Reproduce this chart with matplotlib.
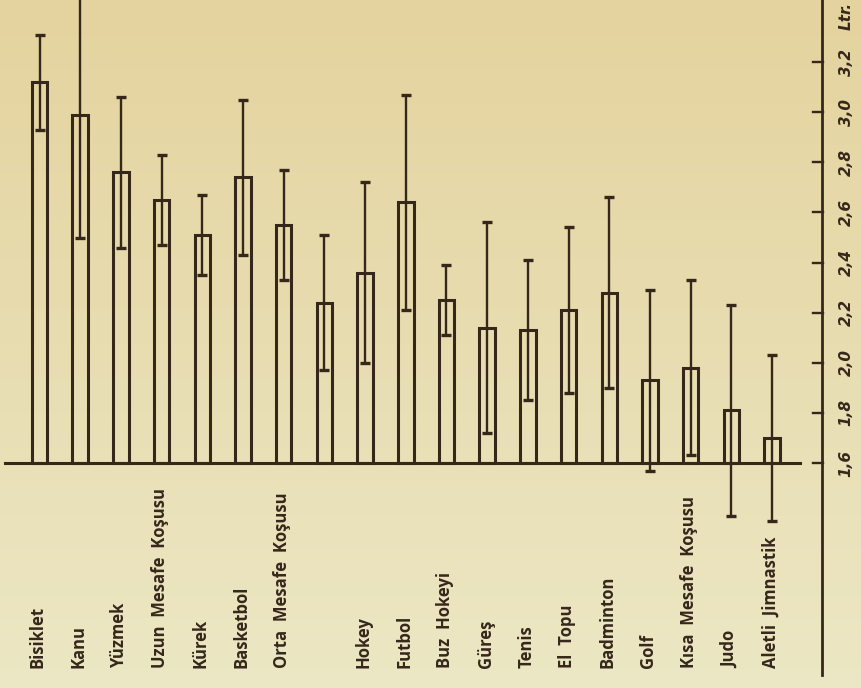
import matplotlib
matplotlib.use('Agg')
import matplotlib.pyplot as plt
import numpy as np

# mean vital capacity (litres) and standard deviation per sport
sports = ['Bisiklet', 'Kanu', 'Yüzmek', 'Uzun  Mesafe  Koşusu', 'Kürek', 'Basketbol',
          'Orta  Mesafe  Koşusu', '', 'Hokey', 'Futbol', 'Buz  Hokeyi', 'Güreş', 'Tenis',
          'El  Topu', 'Badminton', 'Golf', 'Kısa  Mesafe  Koşusu', 'Judo', 'Aletli  Jimnastik']
means = [3.12, 2.99, 2.76, 2.65, 2.51, 2.74, 2.55, 2.24, 2.36, 2.64, 2.25, 2.14, 2.13,
         2.21, 2.28, 1.93, 1.98, 1.81, 1.70]
sds = [0.19, 0.49, 0.30, 0.18, 0.16, 0.31, 0.22, 0.27, 0.36, 0.43, 0.14, 0.42, 0.28,
       0.33, 0.38, 0.36, 0.35, 0.42, 0.33]
yticks = [1.6, 1.8, 2.0, 2.2, 2.4, 2.6, 2.8, 3.0, 3.2]
base = 1.6

ink = '#35281b'
fig = plt.figure(figsize=(8.62, 6.88), dpi=100)
ax = fig.add_axes([0, 0, 1, 1])
ax.set_xlim(-0.971, 20.21)
ax.set_ylim(0.702, 3.448)
ax.axis('off')

# old paper background, darker at the top
grad = np.linspace(0, 1, 256)[:, None]
top = np.array([228, 211, 158]) / 255
bot = np.array([236, 231, 196]) / 255
bg = top[None, None, :] * (1 - grad[..., None]) + bot[None, None, :] * grad[..., None]
bg = np.repeat(bg, 2, axis=1)
ax.imshow(bg, extent=[-0.971, 20.21, 0.702, 3.448], aspect='auto', zorder=0)

x = np.arange(len(means))
ax.bar(x, np.array(means) - base, bottom=base, width=0.38, fill=False,
       edgecolor=ink, linewidth=2.2, zorder=3)
ax.errorbar(x, means, yerr=sds, fmt='none', ecolor=ink, elinewidth=1.7,
            capsize=3.5, capthick=2.4, zorder=4)

# baseline and value axis on the right
ax.plot([-0.85, 18.69], [base, base], color=ink, lw=2.2, zorder=5)
ax.plot([19.23, 19.23], [0.754, 3.45], color=ink, lw=2.0, zorder=5)
for t in yticks:
    ax.plot([19.01, 19.25], [t, t], color=ink, lw=1.7, zorder=5)
    ax.text(19.82, t, ('%.1f' % t).replace('.', ','), rotation=90, ha='center',
            va='center', fontsize=11, fontstyle='italic', fontweight='bold',
            color=ink, family='DejaVu Sans')
ax.text(19.82, 3.385, 'Ltr.', rotation=90, ha='center', va='center', fontsize=11,
        fontstyle='italic', fontweight='bold', color=ink, family='DejaVu Sans')

for xi, name in zip(x, sports):
    ax.text(xi - 0.04, 0.782, name, rotation=90, ha='center', va='bottom',
            fontsize=12, fontweight='bold', color=ink, family='Open Sans')

fig.savefig('out.png', dpi=100)
